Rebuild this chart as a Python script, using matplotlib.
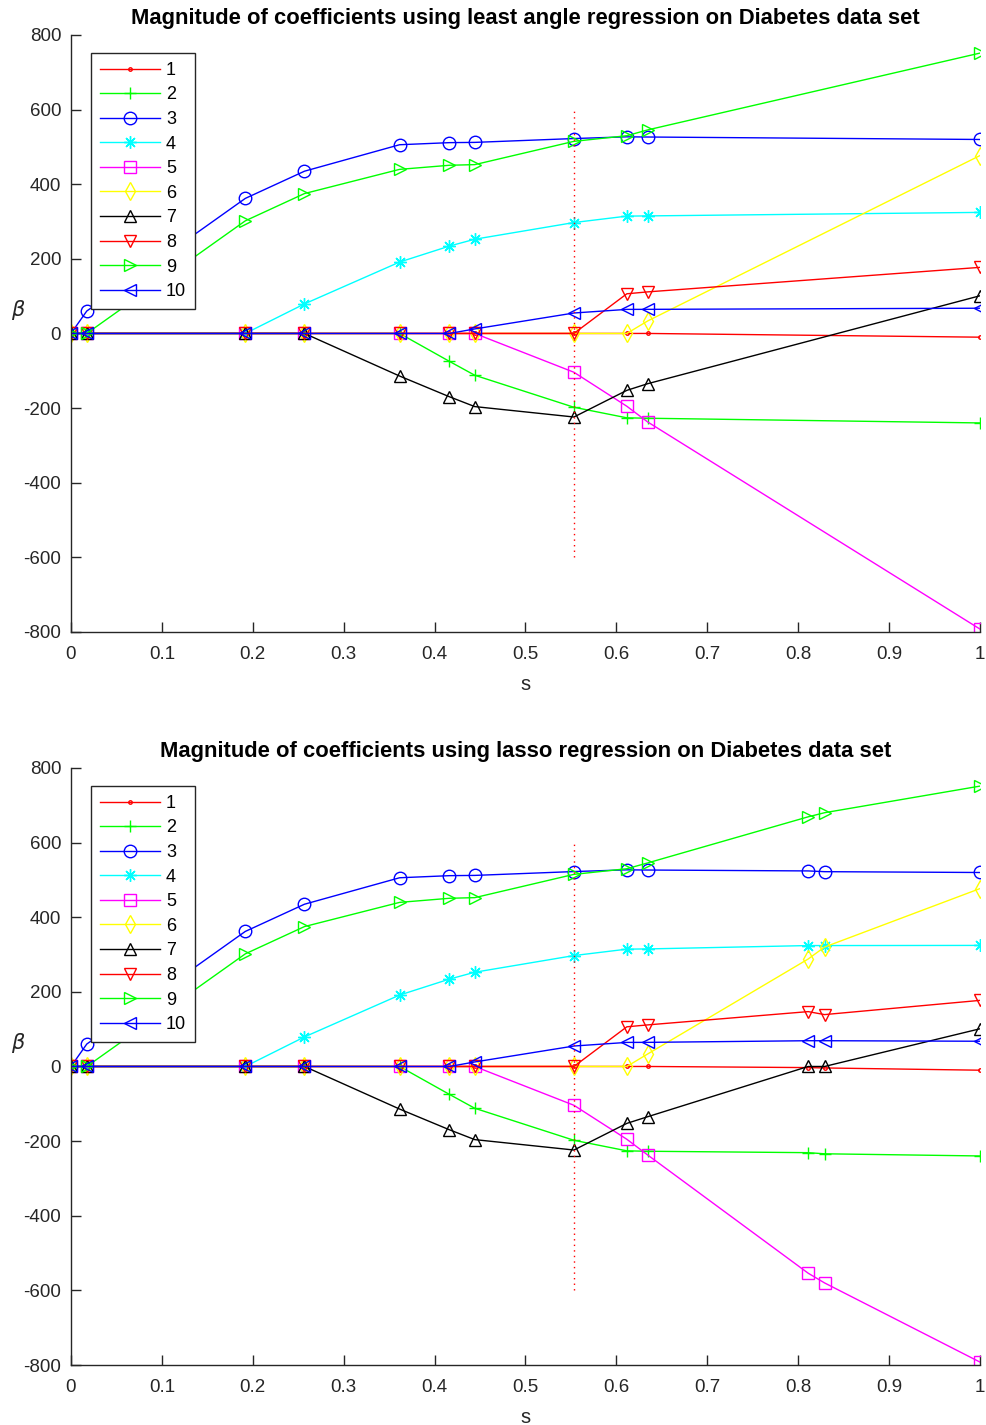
"""Coefficient paths (LARS and lasso) on the Diabetes data set."""

import matplotlib

matplotlib.use("Agg")
import matplotlib.pyplot as plt

plt.rcParams["font.family"] = ["Liberation Sans", "DejaVu Sans"]
plt.rcParams["axes.unicode_minus"] = False

# shrinkage parameter s = |beta|_1 / max |beta|_1 at each breakpoint
s_lars = [0, 0.0174, 0.1918, 0.2569, 0.3615, 0.4164, 0.4442, 0.5533, 0.6115, 0.6345, 1.0]
s_lasso = s_lars[:-1] + [0.811, 0.829, 1.0]

labels = ["1", "2", "3", "4", "5", "6", "7", "8", "9", "10"]

# coefficient value of each feature along the LARS path
lars_coefs = [
    [0, 0, 0, 0, 0, 0, 0, 0, 0, 0, -10.0],
    [0, 0, 0, 0, 0, -74.9, -112.0, -197.8, -226.1, -227.2, -239.8],
    [0, 60.1, 361.9, 434.8, 505.7, 511.3, 512.0, 522.3, 526.9, 526.4, 519.8],
    [0, 0, 0, 79.2, 191.3, 234.2, 252.5, 297.2, 314.4, 315.0, 324.4],
    [0, 0, 0, 0, 0, 0, 0, -104.0, -195.1, -237.3, -792.2],
    [0, 0, 0, 0, 0, 0, 0, 0, 0, 33.6, 476.7],
    [0, 0, 0, 0, -114.1, -169.7, -196.0, -223.9, -152.5, -134.6, 101.0],
    [0, 0, 0, 0, 0, 0, 0, 0, 106.3, 111.4, 177.1],
    [0, 0, 301.8, 374.9, 439.7, 450.7, 452.4, 514.8, 529.9, 545.5, 751.3],
    [0, 0, 0, 0, 0, 0, 12.1, 54.8, 64.5, 64.6, 67.6],
]

# lasso path: identical up to s=0.6345, then two extra breakpoints
lasso_tail = [
    [-3, -4, -10.0],
    [-231, -234, -239.8],
    [524, 522, 519.8],
    [324, 324, 324.4],
    [-554, -580, -792.2],
    [288, 320, 476.7],
    [0, 0, 101.0],
    [147, 139, 177.1],
    [669, 680, 751.3],
    [69, 69, 67.6],
]
lasso_coefs = [row[:-1] + tail for row, tail in zip(lars_coefs, lasso_tail)]

s_marker = 0.5533
marker_span = [-600, 600]

colors = ["#ff0000", "#00ff00", "#0000ff", "#00ffff", "#ff00ff",
          "#ffff00", "#000000", "#ff0000", "#00ff00", "#0000ff"]
# (8, 2, 0) is an 8-armed asterisk like MATLAB's '*'
markers = [".", "+", "o", (8, 2, 0), "s", "d", "^", "v", ">", "<"]
axis_color = "#262626"


def draw_paths(ax, s_values, coefs, title):
    for row, label, color, marker in zip(coefs, labels, colors, markers):
        size = 5 if marker == "." else 9
        ax.plot(s_values, row, color=color, marker=marker, markersize=size,
                markerfacecolor="none", markeredgewidth=1.0, linewidth=1.0,
                label=label)
    ax.plot([s_marker, s_marker], marker_span, color="#ff0000",
            linestyle=(0, (1, 3)), linewidth=1.0)

    ax.set_xlim(0, 1)
    ax.set_ylim(-800, 800)
    ax.set_xticks([i / 10 for i in range(11)])
    ax.set_xticklabels(["0"] + [f"0.{i}" for i in range(1, 10)] + ["1"])
    ax.set_yticks(range(-800, 801, 200))
    for side in ("top", "right"):
        ax.spines[side].set_visible(False)
    for side in ("left", "bottom"):
        ax.spines[side].set_color(axis_color)
        ax.spines[side].set_linewidth(1.0)
    ax.tick_params(direction="in", length=7, width=1.0, colors=axis_color,
                   labelsize=13.5)
    ax.tick_params(axis="x", pad=10)
    ax.tick_params(axis="y", pad=7)

    ax.set_title(title, fontsize=15.8, fontweight="bold", pad=8)
    ax.set_xlabel("s", fontsize=14.5, color=axis_color, labelpad=9)
    ax.set_ylabel(r"$\beta$", fontsize=15, rotation=0, color=axis_color)
    ax.yaxis.set_label_coords(-0.058, 0.52)

    legend = ax.legend(loc="upper left", bbox_to_anchor=(0.022, 0.97),
                       fontsize=13, handlelength=3.3, labelspacing=0.42,
                       borderaxespad=0, fancybox=False, framealpha=1,
                       edgecolor=axis_color, handletextpad=0.35,
                       borderpad=0.5)
    legend.get_frame().set_linewidth(1.0)


fig = plt.figure(figsize=(9.87, 14.25), dpi=100)
ax_top = fig.add_axes([0.0719, 0.5565, 0.921, 0.419])
ax_bottom = fig.add_axes([0.0719, 0.0421, 0.921, 0.419])

draw_paths(ax_top, s_lars, lars_coefs,
           "Magnitude of coefficients using least angle regression on Diabetes data set")
draw_paths(ax_bottom, s_lasso, lasso_coefs,
           "Magnitude of coefficients using lasso regression on Diabetes data set")

fig.savefig("out.png", dpi=100)
plt.close(fig)
